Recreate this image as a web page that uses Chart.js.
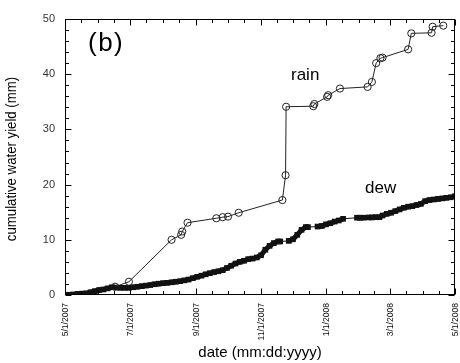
<!DOCTYPE html>
<html>
<head>
<meta charset="utf-8">
<script src="https://cdn.jsdelivr.net/npm/chart.js@4/dist/chart.umd.min.js"></script>
<style>
  html, body { margin: 0; padding: 0; background: #fff; }
  canvas { display: block; }
</style>
</head>
<body>
<canvas id="myChart" width="460" height="363"></canvas>
<script>
// Days counted from 5/1/2007
const rainDays = [47, 60, 100, 109, 110, 115, 142, 148, 153, 163, 204, 207, 207.5, 233, 234, 246, 247, 258, 284, 288, 292, 296, 298, 322, 325, 344, 345, 355];
const rainValues = [1.5, 2.4, 10.0, 10.9, 11.5, 13.1, 13.9, 14.1, 14.2, 14.9, 17.2, 21.7, 34.1, 34.2, 34.6, 35.9, 36.2, 37.4, 37.7, 38.6, 42.0, 42.9, 43.0, 44.5, 47.4, 47.5, 48.6, 48.8];

const dewDays = [0, 4, 8, 12, 16, 20, 24, 28, 32, 36, 40, 44, 48, 52, 56, 60, 64, 68, 72, 76, 80, 84, 88, 92, 96, 100,
  104, 108, 112, 116, 120, 124, 128, 132, 136, 140, 144, 148, 152, 156, 160, 164, 168, 172, 176, 180, 184, 188, 192, 196,
  200, 202, 210, 214, 218, 222, 226, 228, 237, 241, 245, 249, 253, 257, 261, 274, 277, 280, 285, 288, 291,
  295, 298, 302, 306, 310, 314, 318, 322, 326, 330, 334, 338, 342, 346, 350, 354, 358, 362, 366];
const dewValues = [0.0, 0.05, 0.1, 0.2, 0.25, 0.3, 0.5, 0.7, 0.9, 1.0, 1.2, 1.4, 1.35, 1.3, 1.3, 1.3, 1.4, 1.5, 1.6, 1.7, 1.8, 1.95, 2.05, 2.15, 2.2, 2.3,
  2.4, 2.5, 2.65, 2.8, 3.05, 3.3, 3.5, 3.75, 3.95, 4.15, 4.3, 4.5, 4.9, 5.3, 5.7, 6.0, 6.2, 6.5, 6.6, 6.8, 7.2, 8.2, 8.9, 9.4,
  9.7, 9.7, 9.8, 10.1, 10.9, 11.8, 12.3, 12.3, 12.4, 12.5, 12.8, 13.0, 13.3, 13.5, 13.8, 14.0, 14.0, 14.0, 14.05, 14.05, 14.1,
  14.1, 14.4, 14.7, 14.9, 15.2, 15.5, 15.8, 16.0, 16.1, 16.3, 16.5, 17.0, 17.2, 17.3, 17.4, 17.5, 17.6, 17.7, 17.9];

// x axis ticks
const labelDays = [0, 61, 123, 184, 245, 305, 366];
const tickLabels = ["5/1/2007", "7/1/2007", "9/1/2007", "11/1/2007", "1/1/2008", "3/1/2008", "5/1/2008"];
const minorDays = [15, 31, 46, 76, 92, 107, 138, 153, 168, 199, 214, 229, 260, 276, 290, 320, 336, 351];

const toPoints = (xs, ys) => xs.map((d, i) => ({ x: d, y: ys[i] }));

const FONT = "'Liberation Sans', Arial, sans-serif";

// frame, inward ticks and texts
const framePlugin = {
  id: "frame",
  afterDatasetsDraw(chart) {
    const { ctx, chartArea: a, scales } = chart;
    const x = scales.x;
    const y = scales.y;
    const L = Math.round(a.left) + 0.5;
    const R = Math.round(a.right) - 0.5;
    const T = Math.round(a.top) + 0.5;
    const B = Math.round(a.bottom) - 0.5;
    ctx.save();
    ctx.strokeStyle = "#000";
    ctx.lineWidth = 1;
    ctx.strokeRect(L, T, R - L, B - T);

    ctx.beginPath();
    for (let v = 0; v <= 50; v += 2) {
      const py = Math.round(y.getPixelForValue(v)) + 0.5;
      const len = v % 10 === 0 ? 6 : 3.5;
      ctx.moveTo(L, py); ctx.lineTo(L + len, py);
      ctx.moveTo(R, py); ctx.lineTo(R - len, py);
    }
    const xTick = (d, len) => {
      const px = Math.round(x.getPixelForValue(d)) + 0.5;
      ctx.moveTo(px, B); ctx.lineTo(px, B - len);
      ctx.moveTo(px, T); ctx.lineTo(px, T + len);
    };
    labelDays.forEach(d => xTick(d, 6));
    minorDays.forEach(d => xTick(d, 3.5));
    ctx.stroke();

    // rotated date labels
    ctx.fillStyle = "#111";
    ctx.font = "9px " + FONT;
    ctx.textAlign = "right";
    ctx.textBaseline = "middle";
    labelDays.forEach((d, i) => {
      ctx.save();
      ctx.translate(x.getPixelForValue(d), a.bottom + 8);
      ctx.rotate(-Math.PI / 2);
      ctx.scale(0.95, 1.1);
      ctx.fillText(tickLabels[i], 0, 0);
      ctx.restore();
    });

    // axis titles
    ctx.fillStyle = "#000";
    ctx.font = "15px " + FONT;
    ctx.textAlign = "center";
    ctx.textBaseline = "alphabetic";
    ctx.fillText("date (mm:dd:yyyy)", (a.left + a.right) / 2, 357);

    ctx.save();
    ctx.translate(12, (a.top + a.bottom) / 2 + 2);
    ctx.rotate(-Math.PI / 2);
    ctx.scale(0.88, 1);
    ctx.font = "15px " + FONT;
    ctx.textBaseline = "middle";
    ctx.fillText("cumulative water yield (mm)", 0, 0);
    ctx.restore();

    // annotations
    ctx.textAlign = "left";
    ctx.font = "26px " + FONT;
    ctx.letterSpacing = "1.5px";
    ctx.fillText("(b)", 88, 51);
    ctx.letterSpacing = "0px";
    ctx.font = "17px " + FONT;
    ctx.fillText("rain", 291, 80);
    ctx.fillText("dew", 365, 193);
    ctx.restore();
  }
};

const config = {
  type: "scatter",
  data: {
    datasets: [
      {
        label: "rain",
        data: toPoints(rainDays, rainValues),
        showLine: true,
        borderColor: "#222",
        borderWidth: 1,
        pointStyle: "circle",
        pointRadius: 3.6,
        pointBorderWidth: 1,
        pointBackgroundColor: "rgba(0,0,0,0)",
        pointBorderColor: "#222",
      },
      {
        label: "dew",
        data: toPoints(dewDays, dewValues),
        showLine: true,
        borderColor: "#111",
        borderWidth: 1,
        borderCapStyle: "butt",
        // consecutive daily readings merge into a solid band; gaps stay thin
        segment: {
          borderWidth: c => (c.p1.parsed.x - c.p0.parsed.x < 5 ? 5 : 1),
        },
        pointStyle: "rect",
        pointRadius: 4,
        pointBorderWidth: 0,
        pointBackgroundColor: "#111",
      },
    ],
  },
  options: {
    responsive: false,
    animation: false,
    devicePixelRatio: 1,
    layout: { padding: { top: 19, right: 2, left: 0, bottom: 0 } },
    plugins: { legend: { display: false }, tooltip: { enabled: false } },
    scales: {
      x: {
        type: "linear",
        min: 0,
        max: 366,
        grid: { display: false },
        border: { display: false },
        ticks: { display: false },
        afterBuildTicks: scale => { scale.ticks = labelDays.map(v => ({ value: v })); },
        afterFit: scale => { scale.height = 68; },
      },
      y: {
        min: 0,
        max: 50,
        grid: { display: false },
        border: { display: false },
        ticks: {
          stepSize: 2,
          autoSkip: false,
          padding: 2,
          color: "#333",
          font: { family: FONT, size: 11 },
          callback: v => (v % 10 === 0 ? v : ""),
        },
        afterFit: scale => { scale.width = 65; },
      },
    },
  },
  plugins: [framePlugin],
};

const ctx = document.getElementById("myChart").getContext("2d");
const myChart = new Chart(ctx, config);
</script>
</body>
</html>
